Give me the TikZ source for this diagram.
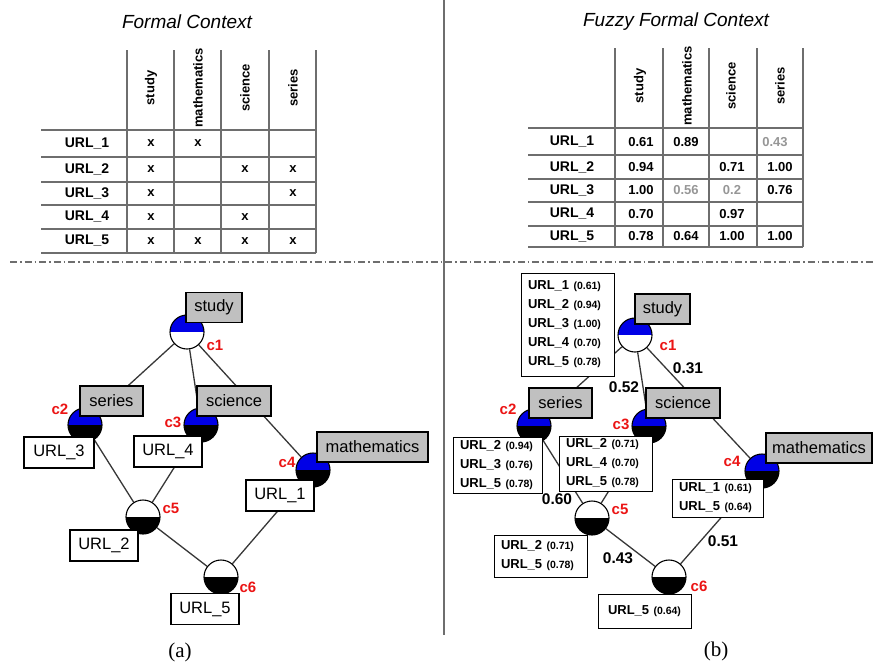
\documentclass[tikz,border=0pt]{standalone}
\usepackage{fontspec}
\setmainfont{Liberation Sans}
\newfontfamily\capserif{Liberation Serif}
\usetikzlibrary{backgrounds}

\definecolor{latblue}{RGB}{0,0,230}
\definecolor{boxgray}{RGB}{192,192,192}
\definecolor{lblred}{RGB}{235,20,20}
\definecolor{valgray}{RGB}{150,150,150}
\definecolor{rulegray}{RGB}{110,110,110}
\definecolor{edgegray}{RGB}{55,55,55}

\newcommand\memb[1]{ {\fontsize{10.5}{10}\selectfont(#1)}}

\begin{document}
\begin{tikzpicture}[x=1pt,y=-1pt,
  half/.style 2 args={circle, draw=black, line width=1.1pt, minimum size=34pt, inner sep=0pt,
    path picture={
      \fill[#1] (path picture bounding box.north west) rectangle (path picture bounding box.east);
      \fill[#2] (path picture bounding box.west) rectangle (path picture bounding box.south east);}},
  attr/.style={draw=black, fill=boxgray, line width=1.2pt, inner sep=0pt, minimum height=30pt,
    font=\fontsize{16.5}{18}\selectfont},
  obj/.style={draw=black, fill=white, line width=1.2pt, inner sep=0pt, minimum width=68pt,
    minimum height=31pt, font=\fontsize{16.5}{18}\selectfont},
  objlist/.style={draw=black, fill=white, line width=1pt, inner xsep=7pt, inner ysep=0pt,
    align=left, text width=#1, font=\fontsize{13}{19}\selectfont\bfseries},
  cname/.style={text=lblred, font=\fontsize{15}{16}\selectfont\bfseries, inner sep=0pt},
  lattice/.style={draw=edgegray, line width=1.3pt},
  weight/.style={font=\fontsize{15.5}{17}\selectfont\bfseries, inner sep=0pt},
  grid/.style={draw=rulegray, line width=1.1pt},
  hdr/.style={rotate=90, font=\fontsize{13}{15}\selectfont\bfseries, inner sep=0pt},
  rowlbl/.style={font=\fontsize{14}{16}\selectfont\bfseries, inner sep=0pt},
  cell/.style={font=\fontsize{13}{15}\selectfont\bfseries, inner sep=0pt},
  title/.style={font=\fontsize{19}{21}\selectfont\itshape, inner sep=0pt},
  caption/.style={font=\capserif\fontsize{21}{23}\selectfont, inner sep=0pt}
]
\useasboundingbox (0,0) rectangle (873,665);

% ---------- separators ----------
\draw[rulegray, line width=1.5pt] (444,0) -- (444,635);
\draw[rulegray, line width=1.2pt, dash pattern=on 7pt off 3pt on 1.5pt off 3pt] (10,262) -- (873,262);

% ---------- crisp formal context ----------
\node[title] (t1) at (187,22) {Formal Context};
\foreach \x in {127,174,221,269,316} \draw[grid] (\x,50) -- (\x,253);
\foreach \y in {130,157,182,205,229,253} \draw[grid] (41,\y) -- (316,\y);
\foreach \x/\t [count=\i] in {151/study, 198/mathematics, 245/science, 293/series}
  \node[hdr] (lh\i) at (\x,88) {\t};
\foreach \y [count=\i] in {143.5,169.5,193.5,217,241}
  \node[rowlbl] (lr\i) at (87,\y) {URL\_\i};
\foreach \x/\y [count=\i] in {151/143.5, 198/143.5,
    151/169.5, 245/169.5, 293/169.5,
    151/193.5, 293/193.5,
    151/217, 245/217,
    151/241, 198/241, 245/241, 293/241}
  \node[cell] (lx\i) at (\x,\y) {x};

% ---------- fuzzy formal context ----------
\node[title] (t2) at (676,22) {Fuzzy Formal Context};
\foreach \x in {615,663,709,757,803} \draw[grid] (\x,48) -- (\x,247);
\foreach \y in {128,155,179,202,226,247} \draw[grid] (528,\y) -- (803,\y);
\foreach \x/\t [count=\i] in {640/study, 687/mathematics, 731/science, 780/series}
  \node[hdr] (rh\i) at (\x,86) {\t};
\foreach \y [count=\i] in {141.7,167,190.5,213.9,236.4}
  \node[rowlbl] (rr\i) at (572,\y) {URL\_\i};
\foreach \x/\y/\v [count=\i] in {641/141.7/0.61, 686/141.7/0.89,
    641/167/0.94, 732/167/0.71, 780/167/1.00,
    641/190.5/1.00, 780/190.5/0.76,
    641/213.9/0.70, 732/213.9/0.97,
    641/236.4/0.78, 686/236.4/0.64, 732/236.4/1.00, 780/236.4/1.00}
  \node[cell] (rv\i) at (\x,\y) {\v};
\foreach \x/\y/\v [count=\i] in {775/141.7/0.43, 686/190.5/0.56, 732/190.5/0.2}
  \node[cell, text=valgray] (rg\i) at (\x,\y) {\v};

% ---------- crisp concept lattice ----------
\node[half={latblue}{white}] (a1) at (187,332) {};
\node[half={latblue}{black}] (a2) at (85,425) {};
\node[half={latblue}{black}] (a3) at (201,425) {};
\node[half={latblue}{black}] (a4) at (313,470) {};
\node[half={white}{black}]   (a5) at (143,517) {};
\node[half={white}{black}]   (a6) at (221,577) {};

\node[attr, minimum width=56pt] (as1) at (214,307.5) {study};
\node[attr, minimum width=63pt] (as2) at (111.5,401) {series};
\node[attr, minimum width=74pt] (as3) at (234,401) {science};
\node[attr, minimum width=111pt] (as4) at (372.5,447) {mathematics};

\node[obj, minimum width=70pt] (ao3) at (59,452.5) {URL\_3};
\node[obj] (ao4) at (168,451.5) {URL\_4};
\node[obj] (ao1) at (280,495.5) {URL\_1};
\node[obj] (ao2) at (104,545.5) {URL\_2};
\node[obj] (ao5) at (205,609) {URL\_5};

\node[cname] (ac1) at (215,345) {c1};
\node[cname] (ac2) at (60,409) {c2};
\node[cname] (ac3) at (173,422) {c3};
\node[cname] (ac4) at (287,462) {c4};
\node[cname] (ac5) at (171,508) {c5};
\node[cname] (ac6) at (248,587) {c6};

\begin{pgfonlayer}{background}
\draw[lattice] (a1) -- (a2) (a1) -- (a3) (a1) -- (a4)
  (a2) -- (a5) (a3) -- (a5) (a4) -- (a6) (a5) -- (a6);
\end{pgfonlayer}

\node[caption] (capa) at (180,652) {(a)};

% ---------- fuzzy concept lattice ----------
\node[half={latblue}{white}] (b1) at (635,335) {};
\node[half={latblue}{black}] (b2) at (534,426) {};
\node[half={latblue}{black}] (b3) at (649,426) {};
\node[half={latblue}{black}] (b4) at (762,471) {};
\node[half={white}{black}]   (b5) at (592,518) {};
\node[half={white}{black}]   (b6) at (669,577) {};

\node[attr, minimum width=55pt] (bs1) at (662.5,309) {study};
\node[attr, minimum width=63pt] (bs2) at (560.5,403) {series};
\node[attr, minimum width=74pt] (bs3) at (683,403) {science};
\node[attr, minimum width=106pt] (bs4) at (819,448) {mathematics};

\node[objlist=79pt, minimum height=103pt] (bo1) at (567.5,324.5)
  {URL\_1\memb{0.61}\\URL\_2\memb{0.94}\\URL\_3\memb{1.00}\\URL\_4\memb{0.70}\\URL\_5\memb{0.78}};
\node[objlist=75pt, minimum height=56pt] (bo2) at (497.5,465)
  {URL\_2\memb{0.94}\\URL\_3\memb{0.76}\\URL\_5\memb{0.78}};
\node[objlist=79pt, minimum height=55pt] (bo3) at (605.5,463.5)
  {URL\_2\memb{0.71}\\URL\_4\memb{0.70}\\URL\_5\memb{0.78}};
\node[objlist=77pt, minimum height=38pt] (bo4) at (717.5,498)
  {URL\_1\memb{0.61}\\URL\_5\memb{0.64}};
\node[objlist=79pt, minimum height=42pt] (bo5) at (540.5,556)
  {URL\_2\memb{0.71}\\URL\_5\memb{0.78}};
\node[objlist=79pt, minimum height=34pt] (bo6) at (644.5,611)
  {\hspace*{3pt}URL\_5\memb{0.64}};

\node[cname] (bc1) at (668,345) {c1};
\node[cname] (bc2) at (508,409) {c2};
\node[cname] (bc3) at (621,424) {c3};
\node[cname] (bc4) at (732,461) {c4};
\node[cname] (bc5) at (620,509) {c5};
\node[cname] (bc6) at (699,586) {c6};

\begin{pgfonlayer}{background}
\draw[lattice] (b1) -- (b2) (b1) -- (b3) (b1) -- (b4)
  (b2) -- (b5) (b3) -- (b5) (b4) -- (b6) (b5) -- (b6);
\end{pgfonlayer}

\node[weight] (w14) at (688,368) {0.31};
\node[weight] (w13) at (624,387) {0.52};
\node[weight] (w25) at (557,499) {0.60};
\node[weight] (w56) at (618,558) {0.43};
\node[weight] (w46) at (723,541) {0.51};

\node[caption] (capb) at (716,651) {(b)};
\end{tikzpicture}
\end{document}
